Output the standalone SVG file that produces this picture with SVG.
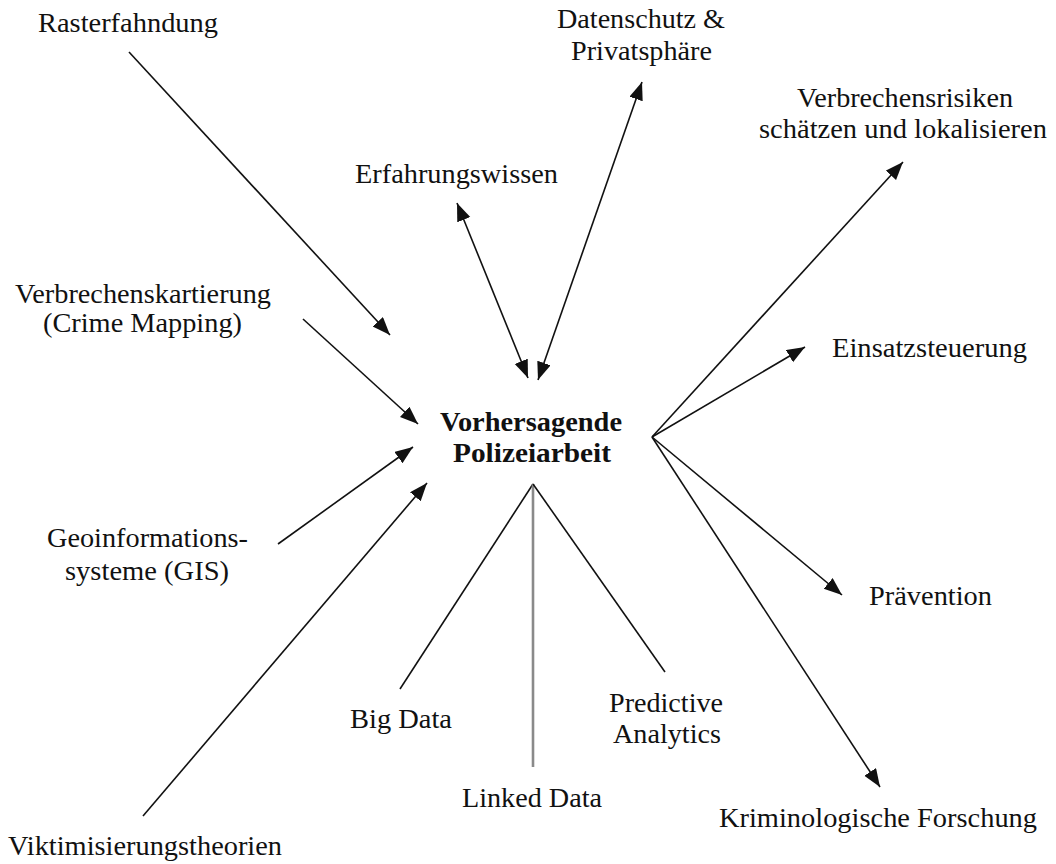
<svg xmlns="http://www.w3.org/2000/svg" width="1056" height="864" viewBox="0 0 1056 864">
<style>
text{font-family:"Liberation Serif","Times New Roman",serif;font-size:27.5px;fill:#111;text-anchor:middle}
.b{font-weight:bold;font-size:28px}
.c{stroke:#111;stroke-width:1.6;fill:none}
.a{marker-end:url(#ah)}
.d{marker-start:url(#ah);marker-end:url(#ah)}
.g{stroke:#8a8a8a;stroke-width:2.6}
</style>
<defs>
<marker id="ah" markerUnits="userSpaceOnUse" markerWidth="20" markerHeight="16" refX="18" refY="7" orient="auto-start-reverse">
<path d="M0,0 L18,7 L0,14 z" fill="#111"/>
</marker>
</defs>
<rect width="1056" height="864" fill="#fff"/>
<g id="connectors">
<line class="c a" x1="129" y1="52" x2="390" y2="335"/>
<line class="c a" x1="303" y1="319" x2="418" y2="424"/>
<line class="c a" x1="278" y1="544" x2="413" y2="447"/>
<line class="c a" x1="143" y1="816" x2="427" y2="483"/>
<line class="c d" x1="457" y1="203" x2="528" y2="378"/>
<line class="c d" x1="642" y1="82" x2="538" y2="380"/>
<line class="c a" x1="652" y1="437" x2="903" y2="162"/>
<line class="c a" x1="652" y1="437" x2="805" y2="347"/>
<line class="c a" x1="652" y1="437" x2="842" y2="595"/>
<line class="c a" x1="652" y1="437" x2="880" y2="787"/>
<line class="c" x1="533" y1="484" x2="400" y2="689"/>
<line class="c g" x1="533" y1="484" x2="533" y2="767"/>
<line class="c" x1="533" y1="484" x2="665" y2="672"/>
</g>
<g id="center"><text class="b" x="531" y="431" textLength="182" lengthAdjust="spacingAndGlyphs">Vorhersagende</text><text class="b" x="532" y="462" textLength="158" lengthAdjust="spacingAndGlyphs">Polizeiarbeit</text></g>
<g id="rasterfahndung"><text x="128" y="32" textLength="180" lengthAdjust="spacingAndGlyphs">Rasterfahndung</text></g>
<g id="datenschutz"><text x="641" y="28" textLength="168" lengthAdjust="spacingAndGlyphs">Datenschutz &amp;</text><text x="641.5" y="60" textLength="141" lengthAdjust="spacingAndGlyphs">Privatsphäre</text></g>
<g id="erfahrungswissen"><text x="456.5" y="183" textLength="203" lengthAdjust="spacingAndGlyphs">Erfahrungswissen</text></g>
<g id="verbrechensrisiken"><text x="905" y="107" textLength="216" lengthAdjust="spacingAndGlyphs">Verbrechensrisiken</text><text x="903" y="138" textLength="288" lengthAdjust="spacingAndGlyphs">schätzen und lokalisieren</text></g>
<g id="einsatzsteuerung"><text x="929.5" y="357" textLength="195" lengthAdjust="spacingAndGlyphs">Einsatzsteuerung</text></g>
<g id="kartierung"><text x="143" y="303" textLength="256" lengthAdjust="spacingAndGlyphs">Verbrechenskartierung</text><text x="142.5" y="332" textLength="199" lengthAdjust="spacingAndGlyphs">(Crime Mapping)</text></g>
<g id="gis"><text x="147.5" y="547" textLength="201" lengthAdjust="spacingAndGlyphs">Geoinformations-</text><text x="147" y="580" textLength="164" lengthAdjust="spacingAndGlyphs">systeme (GIS)</text></g>
<g id="viktimisierung"><text x="145" y="855" textLength="274" lengthAdjust="spacingAndGlyphs">Viktimisierungstheorien</text></g>
<g id="bigdata"><text x="401" y="728" textLength="102" lengthAdjust="spacingAndGlyphs">Big Data</text></g>
<g id="linkeddata"><text x="532" y="807" textLength="140" lengthAdjust="spacingAndGlyphs">Linked Data</text></g>
<g id="predictive"><text x="666" y="712" textLength="114" lengthAdjust="spacingAndGlyphs">Predictive</text><text x="667" y="743" textLength="108" lengthAdjust="spacingAndGlyphs">Analytics</text></g>
<g id="praevention"><text x="930.5" y="605" textLength="123" lengthAdjust="spacingAndGlyphs">Prävention</text></g>
<g id="forschung"><text x="878" y="827" textLength="318" lengthAdjust="spacingAndGlyphs">Kriminologische Forschung</text></g>
</svg>
